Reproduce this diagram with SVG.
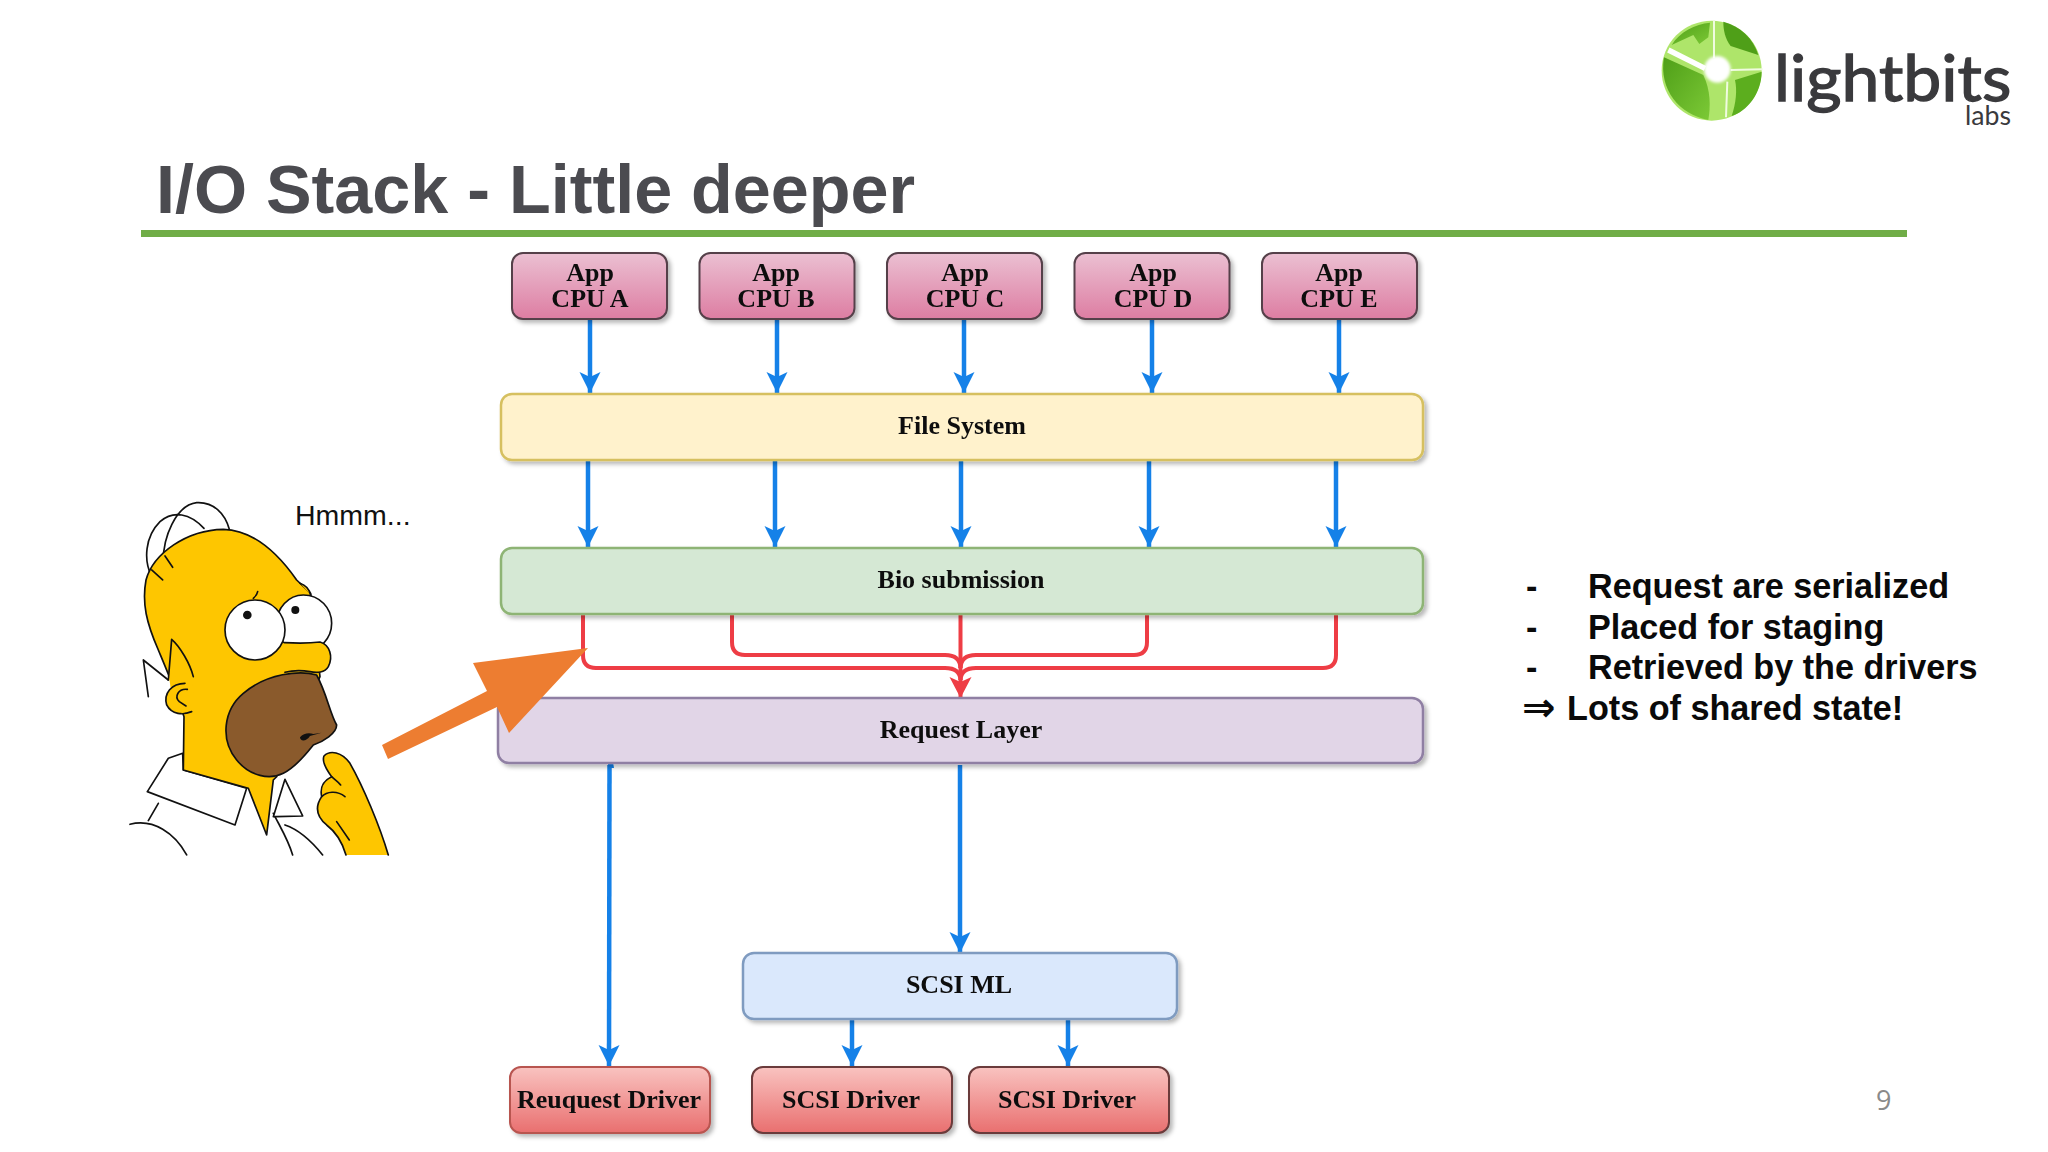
<svg xmlns="http://www.w3.org/2000/svg" width="2048" height="1152" viewBox="0 0 2048 1152">
<style>
.lbl{font-family:"Liberation Serif","Times New Roman",serif;font-weight:bold;font-size:26px;fill:#111;text-anchor:middle}
.side{font-family:"Liberation Sans",Arial,sans-serif;font-weight:bold;font-size:34.200px;fill:#0a0a0a}
.b{fill:none;stroke:#1581e8;stroke-width:4.500}
.r{fill:none;stroke:#ee3d45;stroke-width:4}
.h{stroke:#111;stroke-width:5;stroke-linejoin:round;stroke-linecap:round}
.y{fill:#fec600}.w{fill:#fff}.n{fill:none}
</style>
<defs>
<linearGradient id="gApp" x1="0" y1="0" x2="0" y2="1"><stop offset="0" stop-color="#ebc0d2"/><stop offset="1" stop-color="#dd7da2"/></linearGradient>
<linearGradient id="gDrv" x1="0" y1="0" x2="0" y2="1"><stop offset="0" stop-color="#f9c3c0"/><stop offset="1" stop-color="#e96f6f"/></linearGradient>
<linearGradient id="gDark" x1="0" y1="0" x2="1" y2="1"><stop offset="0" stop-color="#4f9f18"/><stop offset="1" stop-color="#7cc936"/></linearGradient>
<filter id="sh" x="-5%" y="-10%" width="110%" height="125%"><feDropShadow dx="3" dy="3" stdDeviation="2" flood-color="#000" flood-opacity="0.28"/></filter>
<filter id="soft" x="-50%" y="-50%" width="200%" height="200%"><feGaussianBlur stdDeviation="5"/></filter>
<marker id="ab" markerUnits="userSpaceOnUse" markerWidth="22" markerHeight="22" refX="21" refY="10.500" orient="auto"><path d="M0 0L21 10.500L0 21L5 10.500Z" fill="#1581e8"/></marker>
<marker id="ar" markerUnits="userSpaceOnUse" markerWidth="22" markerHeight="23" refX="21" refY="11" orient="auto"><path d="M0 0L21 11L0 22L5 11Z" fill="#ee3d45"/></marker>
</defs>
<rect width="2048" height="1152" fill="#fff"/>

<g id="logo" transform="translate(1640 0) scale(0.3333)">
<circle cx="215" cy="212" r="150" fill="#aee56a"/>
<path d="M95 135C120 95 165 72 210 68L205 112L178 132L160 105Z" fill="url(#gDark)"/>
<path d="M250 65C300 78 340 115 355 165L272 138C255 115 250 90 250 65Z" fill="#4f9f18"/>
<path d="M285 240L365 215C365 280 320 335 275 348C288 310 292 270 285 240Z" fill="#5cae1e"/>
<path d="M72 172L190 225C212 270 212 320 205 360C120 345 55 270 72 172Z" fill="url(#gDark)"/>
<path d="M85 150L195 205" stroke="#fff" stroke-width="16" fill="none"/>
<path d="M222 60L222 175M258 352L262 245M368 208L272 210" stroke="#f0fbe0" stroke-width="6" fill="none"/>
<circle cx="232" cy="208" r="40" fill="#fff" filter="url(#soft)"/>
<text x="402" y="303" font-family="Lato,'Noto Sans',sans-serif" font-size="192" fill="#3a3a3d" stroke="#3a3a3d" stroke-width="4" textLength="712" lengthAdjust="spacingAndGlyphs">lightbits</text>
<text x="975" y="376" font-family="Lato,'Noto Sans',sans-serif" font-size="78" fill="#3a3a3d" textLength="138" lengthAdjust="spacingAndGlyphs">labs</text>
</g>

<text id="title" x="156" y="213" font-family="'Liberation Sans',Arial,sans-serif" font-weight="bold" font-size="68.300" fill="#4b4b50">I/O Stack - Little deeper</text>
<rect id="rule" x="141" y="230" width="1766" height="7" fill="#70ad47"/>

<g id="homer" transform="translate(100 480) scale(0.3333)">
<path class="h n" d="M90 1033C160 1015 225 1060 260 1125M520 1000C540 1040 565 1080 578 1125M555 1035C600 1050 640 1090 668 1125M145 1022L175 970"/>
<path class="h w" d="M205 835L248 820L250 870L440 925L405 1035L142 935Z"/>
<path class="h w" d="M520 1010L555 898L608 1008L530 1010Z"/>
<path class="h n" d="M155 290C130 240 135 170 180 125C220 90 270 100 312 145M190 260C185 170 230 75 290 68C340 65 375 100 388 148M130 540L205 600M130 540L145 650"/>
<path class="h y" d="M250 870L252 710C230 640 200 570 175 510C140 430 125 370 138 300C160 220 260 150 370 148C450 150 520 200 590 300L632 340L660 590L530 890L520 900L500 1065L445 925Z"/>
<path class="h n" d="M155 270L188 300M195 228L218 262"/>
<path class="h y" d="M205 600L215 478C240 500 270 550 280 590"/>
<path d="M208 596L270 575L282 640L214 640Z" fill="#fec600"/>
<path class="h y" d="M255 610C215 610 190 640 200 675C215 705 250 705 275 695"/>
<path d="M250 615L275 690L245 700L235 650Z" fill="#fec600"/>
<path class="h n" d="M262 628C235 625 222 650 238 665L258 678"/>
<path class="h" fill="#8a5a2c" d="M650 585C600 570 500 580 430 640C370 690 360 780 410 840C450 890 510 900 550 880C590 860 620 820 640 795C670 785 710 760 710 735C690 700 680 640 650 585Z"/>
<path d="M600 772C610 758 630 758 640 762L665 758L630 768C620 785 600 785 600 772Z" fill="#111"/>
<path class="h" fill="#fff" d="M610 345C565 345 530 385 530 430C530 480 565 515 610 515C660 515 695 475 695 430C695 385 660 345 610 345Z"/>
<path class="h y" d="M600 310C615 315 628 328 632 345"/>
<circle cx="586" cy="390" r="12" fill="#111"/>
<path d="M540 488C590 490 630 490 660 486C690 495 700 530 685 560C675 578 650 580 630 575L560 572Z" fill="#fec600"/>
<path class="h n" d="M553 488C590 490 630 490 660 486C690 495 700 530 685 560C675 578 650 580 630 575C600 570 575 572 555 577"/>
<circle class="h w" cx="465" cy="450" r="90"/>
<circle cx="442" cy="405" r="13" fill="#111"/>
<path class="h n" d="M460 355C468 348 472 342 473 335"/>
<path class="h y" d="M738 1125C725 1080 700 1050 680 1035C650 1010 645 980 665 950C660 925 665 905 695 890C680 870 665 845 672 828C690 810 725 815 750 850C790 920 840 1040 865 1125"/>
<path class="h n" d="M665 950C680 935 710 930 735 950M695 890C705 900 715 905 722 915M710 1025L748 1080"/>
</g>
<text id="hmmm" x="295" y="525" font-family="'Liberation Sans',Arial,sans-serif" font-size="28.500" fill="#111">Hmmm...</text>

<g id="connectors">
<path class="b" marker-end="url(#ab)" d="M590 319L590 393"/>
<path class="b" marker-end="url(#ab)" d="M777 319L777 393"/>
<path class="b" marker-end="url(#ab)" d="M964 319L964 393"/>
<path class="b" marker-end="url(#ab)" d="M1152 319L1152 393"/>
<path class="b" marker-end="url(#ab)" d="M1339 319L1339 393"/>
<path class="b" marker-end="url(#ab)" d="M588 459L588 547"/>
<path class="b" marker-end="url(#ab)" d="M775 459L775 547"/>
<path class="b" marker-end="url(#ab)" d="M961 459L961 547"/>
<path class="b" marker-end="url(#ab)" d="M1149 459L1149 547"/>
<path class="b" marker-end="url(#ab)" d="M1336 459L1336 547"/>
<path class="r" d="M583 614L583 655Q583 668 596 668L945 668Q960 668 960.500 680"/>
<path class="r" d="M732 612L732 642Q732 655 745 655L945 655Q960 655 960.500 668"/>
<path class="r" d="M1147 612L1147 642Q1147 655 1134 655L976 655Q961 655 960.500 668"/>
<path class="r" d="M1336 612L1336 655Q1336 668 1323 668L976 668Q961 668 960.500 680"/>
<path class="r" marker-end="url(#ar)" d="M960.500 612L960.500 698"/>
<path class="b" marker-end="url(#ab)" d="M609.500 765L609 1066"/>
<path d="M608 762L613 762L614 768L608 768Z" fill="#1581e8"/>
<path class="b" marker-end="url(#ab)" d="M960 765L960 953"/>
<path class="b" marker-end="url(#ab)" d="M852 1019L852 1066"/>
<path class="b" marker-end="url(#ab)" d="M1068 1019L1068 1066"/>
</g>

<g id="app-a" filter="url(#sh)"><rect x="512" y="253" width="155" height="66" rx="11" fill="url(#gApp)" stroke="#54404a" stroke-width="2"/><text class="lbl" x="590" y="281">App</text><text class="lbl" x="590" y="307">CPU A</text></g>
<g id="app-b" filter="url(#sh)"><rect x="699.500" y="253" width="155" height="66" rx="11" fill="url(#gApp)" stroke="#54404a" stroke-width="2"/><text class="lbl" x="776" y="281">App</text><text class="lbl" x="776" y="307">CPU B</text></g>
<g id="app-c" filter="url(#sh)"><rect x="887" y="253" width="155" height="66" rx="11" fill="url(#gApp)" stroke="#54404a" stroke-width="2"/><text class="lbl" x="965" y="281">App</text><text class="lbl" x="965" y="307">CPU C</text></g>
<g id="app-d" filter="url(#sh)"><rect x="1074.500" y="253" width="155" height="66" rx="11" fill="url(#gApp)" stroke="#54404a" stroke-width="2"/><text class="lbl" x="1153" y="281">App</text><text class="lbl" x="1153" y="307">CPU D</text></g>
<g id="app-e" filter="url(#sh)"><rect x="1262" y="253" width="155" height="66" rx="11" fill="url(#gApp)" stroke="#54404a" stroke-width="2"/><text class="lbl" x="1339" y="281">App</text><text class="lbl" x="1339" y="307">CPU E</text></g>

<g id="file-system" filter="url(#sh)"><rect x="501" y="394" width="922" height="66" rx="11" fill="#fff2cc" stroke="#d6c060" stroke-width="2.500"/><text class="lbl" x="962" y="434">File System</text></g>
<g id="bio-submission" filter="url(#sh)"><rect x="501" y="548" width="922" height="66" rx="11" fill="#d5e8d4" stroke="#8eb474" stroke-width="2.500"/><text class="lbl" x="961" y="588">Bio submission</text></g>
<g id="request-layer" filter="url(#sh)"><rect x="498" y="698" width="925" height="65" rx="11" fill="#e1d5e7" stroke="#8f7fa3" stroke-width="2.500"/><text class="lbl" x="961" y="738">Request Layer</text></g>
<g id="scsi-ml" filter="url(#sh)"><rect x="743" y="953" width="434" height="66" rx="11" fill="#dae8fc" stroke="#7f9bc0" stroke-width="2.500"/><text class="lbl" x="959" y="993">SCSI ML</text></g>
<g id="request-driver" filter="url(#sh)"><rect x="510" y="1067" width="200" height="66" rx="11" fill="url(#gDrv)" stroke="#b85450" stroke-width="2"/><text class="lbl" x="609" y="1108">Reuquest Driver</text></g>
<g id="scsi-driver-1" filter="url(#sh)"><rect x="752" y="1067" width="200" height="66" rx="11" fill="url(#gDrv)" stroke="#6a3a3a" stroke-width="2"/><text class="lbl" x="851" y="1108">SCSI Driver</text></g>
<g id="scsi-driver-2" filter="url(#sh)"><rect x="969" y="1067" width="200" height="66" rx="11" fill="url(#gDrv)" stroke="#6a3a3a" stroke-width="2"/><text class="lbl" x="1067" y="1108">SCSI Driver</text></g>

<path id="callout" d="M588 648L473 663L487 691L382 745L388 759L497 707L509 733Z" fill="#ed7d31"/>

<g id="notes">
<text class="side" x="1526" y="598">-</text><text class="side" x="1588" y="598">Request are serialized</text>
<text class="side" x="1526" y="639">-</text><text class="side" x="1588" y="639">Placed for staging</text>
<text class="side" x="1526" y="679">-</text><text class="side" x="1588" y="679">Retrieved by the drivers</text>
<text class="side" x="1522" y="721" style="font-family:'DejaVu Sans',sans-serif;font-size:40px">⇒</text><text class="side" x="1567" y="720">Lots of shared state!</text>
</g>
<text id="page" x="1876" y="1110" font-family="'Open Sans','Noto Sans',sans-serif" font-size="27" fill="#8a8a8a">9</text>
</svg>
